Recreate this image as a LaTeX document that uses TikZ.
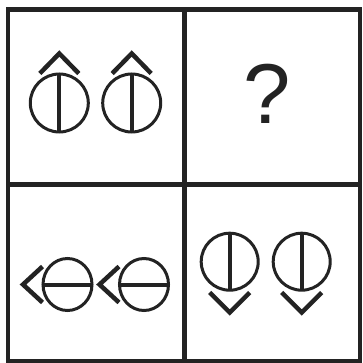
\documentclass[tikz,border=0pt]{standalone}
\usepackage{fontspec}
\setmainfont{Liberation Sans}
\usepackage{xcolor}
\usetikzlibrary{arrows.meta,positioning,calc}
\definecolor{ink}{HTML}{232323}

\begin{document}
\begin{tikzpicture}[x=1pt,y=-1pt,>=Latex,
    frame/.style={draw=ink,line width=4.5pt},
    ring/.style={draw=ink,line width=3pt},
    bar/.style={draw=ink,line width=4pt},
    chevron/.style={draw=ink,line width=4.5pt,line cap=butt,miter limit=4}]
  \useasboundingbox (0,0) rectangle (362,363);
  \fill[white] (0,0) rectangle (362,363);
  % grid
  \draw[frame] (8,9.5) rectangle (360,361);
  \draw[frame] (184.5,9.5) -- (184.5,361);
  \draw[frame] (8,184.5) -- (360,184.5);
  % top left: arrows up
  \foreach \cx in {59.3,131.7} {
    \draw[ring] (\cx,103) circle (29);
    \draw[bar] (\cx,74) -- (\cx,132);
    \draw[chevron] (\cx-19.5,73.5) -- (\cx,53.5) -- (\cx+19.5,73.5);
  }
  % top right
  \node[text=ink,font=\fontsize{85}{85}\selectfont,inner sep=0pt] (q) at (267,94) {?};
  % bottom left: arrows left
  \foreach \cx in {67.5,144} {
    \draw[ring] (\cx,284.5) ellipse (24.5 and 26);
    \draw[bar] (\cx-24.5,284.5) -- (\cx+24.5,284.5);
    \draw[chevron] (\cx-25,266.5) -- (\cx-44.5,284.5) -- (\cx-25,302.5);
  }
  % bottom right: arrows down
  \foreach \cx in {229.7,301.7} {
    \draw[ring] (\cx,261.7) circle (28.5);
    \draw[bar] (\cx,233.2) -- (\cx,290.2);
    \draw[chevron] (\cx-20,292.5) -- (\cx,312.5) -- (\cx+20,292.5);
  }
\end{tikzpicture}
\end{document}
